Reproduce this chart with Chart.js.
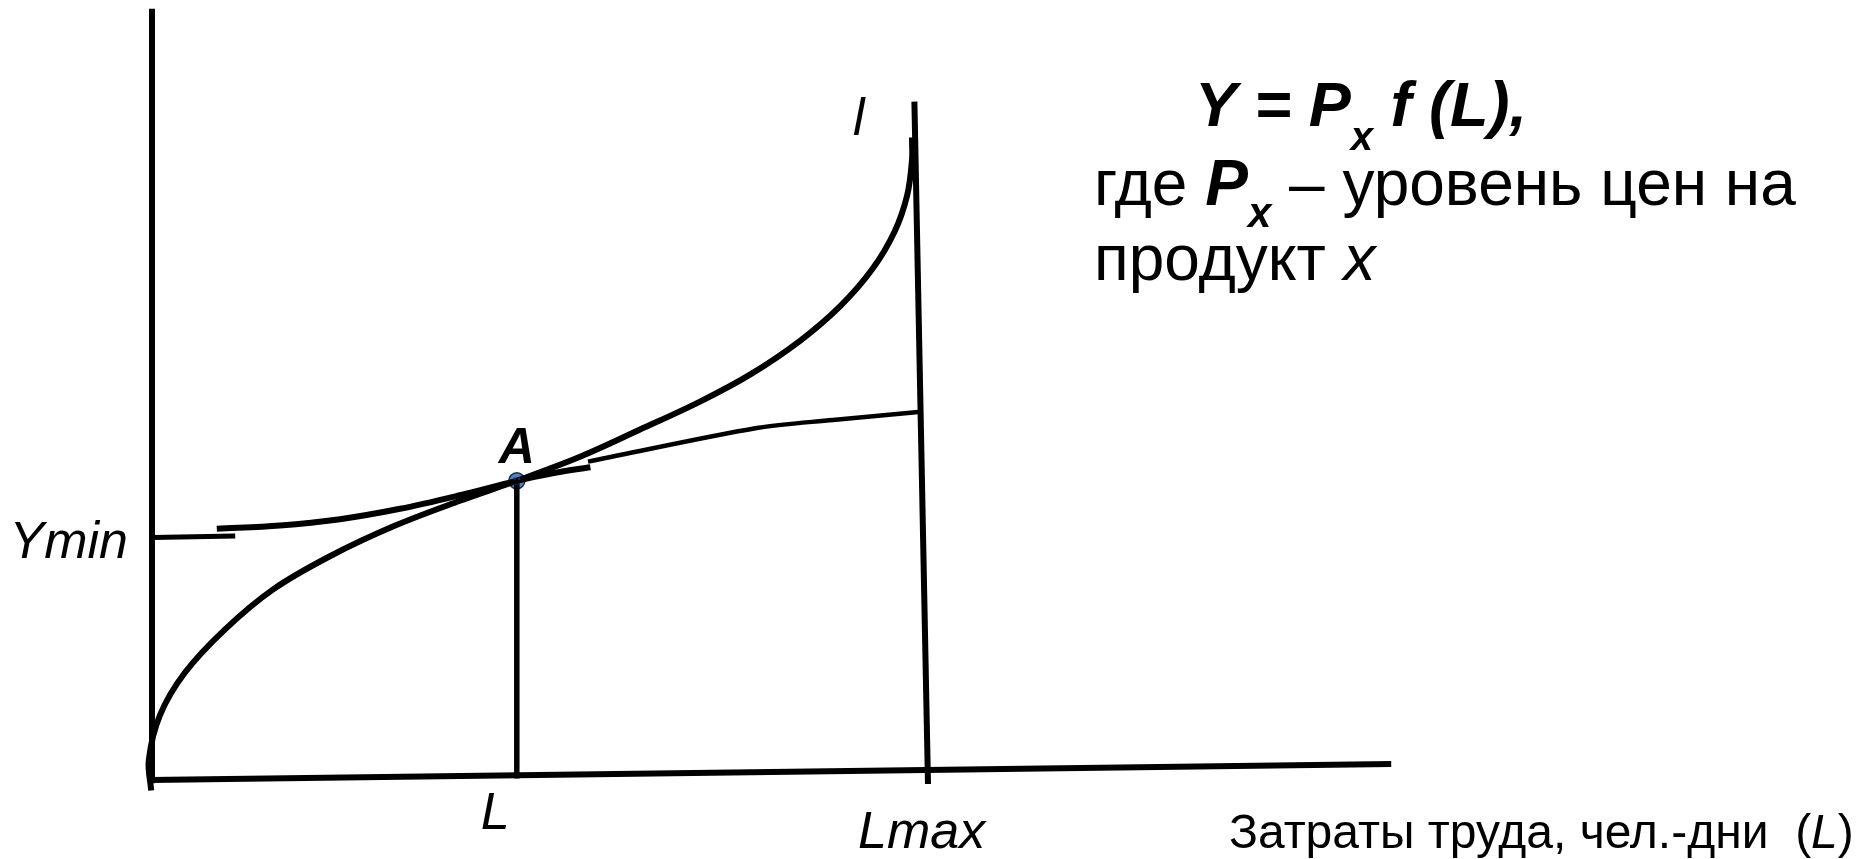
<!DOCTYPE html>
<html>
<head>
<meta charset="utf-8">
<script src="https://cdn.jsdelivr.net/npm/chart.js@4.4.1/dist/chart.umd.min.js"></script>
<style>
  html, body { margin: 0; padding: 0; background: #fff; }
  canvas { display: block; }
</style>
</head>
<body>
<canvas id="prodChart" width="1868" height="859"></canvas>
<script>
// production function Y = f(L) (L and Y in chart units)
const fCurveL = [-0.1, -0.4, 1.0, 4.1, 9.1, 15.1, 22.3, 30.4, 38.5, 45.6, 53.5, 61.0, 68.5, 74.8, 81.0, 86.0, 90.0, 92.8, 94.4, 95.0, 95.0];
const fCurveY = [-1.3, 2.5, 8.1, 13.4, 18.8, 23.8, 28.0, 31.8, 34.9, 37.4, 40.4, 43.8, 47.3, 50.7, 54.9, 59.2, 63.8, 68.5, 73.1, 77.5, 80.3];

// curve from Ymin through point A
const yminCurveL = [8.1, 16.0, 23.5, 31.0, 38.5, 45.6, 50.4, 54.8];
const yminCurveY = [31.4, 31.8, 32.6, 33.9, 35.6, 37.4, 38.4, 39.1];
const yminTickL = [0.1, 10.4];
const yminTickY = [30.3, 30.5];

// second piece going on to Lmax
const upperLineL = [54.5, 75.6, 85.1, 95.8];
const upperLineY = [39.8, 44.0, 45.0, 46.0];

// axes and guide lines
const yAxisL = [0, 0];
const yAxisY = [96.4, -0.4];
const xAxisL = [-0.2, 154.9];
const xAxisY = [0, 2.0];
const lmaxL = [95.3, 97.0];
const lmaxY = [84.8, -0.5];
const pointA = { L: 45.6, Y: 37.4 };

function toPoints(xs, ys) {
    return xs.map((v, i) => ({ x: v, y: ys[i] }));
}

function lineSet(xs, ys, width, tension) {
    return {
        data: toPoints(xs, ys),
        showLine: true,
        borderColor: "#000",
        borderWidth: width,
        pointRadius: 0,
        tension: tension || 0,
        borderCapStyle: "butt"
    };
}

const labelsPlugin = {
    id: "labels",
    afterDatasetsDraw(chart) {
        const ctx = chart.ctx;
        const xs = chart.scales.x;
        const ys = chart.scales.y;
        const ff = "'Liberation Sans', Arial, sans-serif";
        ctx.save();
        ctx.textBaseline = "alphabetic";

        // smiley on point A
        const ax = xs.getPixelForValue(pointA.L);
        const ay = ys.getPixelForValue(pointA.Y);
        ctx.fillStyle = "#1b2f4a";
        ctx.beginPath(); ctx.arc(ax - 2.4, ay - 2, 1.4, 0, Math.PI * 2); ctx.fill();
        ctx.beginPath(); ctx.arc(ax + 2.4, ay - 2, 1.4, 0, Math.PI * 2); ctx.fill();
        ctx.strokeStyle = "#1b2f4a"; ctx.lineWidth = 1;
        ctx.beginPath(); ctx.arc(ax, ay + 0.5, 3.4, 0.2 * Math.PI, 0.8 * Math.PI); ctx.stroke();
        ctx.fillStyle = "#000";

        // point and axis labels
        ctx.font = "italic 52px " + ff;
        ctx.textAlign = "right";
        ctx.fillText("Ymin", 128, 558);
        ctx.textAlign = "left";
        ctx.fillText("L", ax - 36, 829);
        ctx.fillText("Lmax", 858, 848);
        ctx.fillText("l", 853, 135);
        ctx.font = "bold italic 50px " + ff;
        ctx.textAlign = "center";
        ctx.fillText("A", ax, 463);

        // axis title
        ctx.textAlign = "left";
        let x = 1229;
        ctx.font = "48px " + ff;
        ctx.fillText("Затраты труда, чел.-дни  (", x, 848);
        x += ctx.measureText("Затраты труда, чел.-дни  (").width;
        ctx.font = "italic 48px " + ff;
        ctx.fillText("L", x, 848);
        x += ctx.measureText("L").width;
        ctx.font = "48px " + ff;
        ctx.fillText(")", x, 848);

        // formula block
        const runs = [
            [1195, 126, [["bold italic 63px", "Y = P", 0], ["bold italic 40px", "x", 24], ["bold italic 63px", " f (L),", 0]]],
            [1094, 205, [["64px", "где ", 0], ["bold italic 64px", "P", 0], ["bold italic 42px", "x", 22], ["64px", " – уровень цен на", 0]]],
            [1094, 280, [["64px", "продукт ", 0], ["italic 64px", "x", 0]]]
        ];
        runs.forEach(line => {
            let cx = line[0];
            line[2].forEach(r => {
                ctx.font = r[0] + " " + ff;
                ctx.fillText(r[1], cx, line[1] + r[2]);
                cx += ctx.measureText(r[1]).width;
            });
        });
        ctx.restore();
    }
};

const ctx = document.getElementById("prodChart").getContext("2d");

new Chart(ctx, {
    type: "scatter",
    data: {
        datasets: [
            lineSet(yAxisL, yAxisY, 6),
            lineSet(xAxisL, xAxisY, 6),
            lineSet(lmaxL, lmaxY, 6),
            lineSet([pointA.L, pointA.L], [pointA.Y, 0.2], 5.5),
            lineSet(yminTickL, yminTickY, 5),
            lineSet(yminCurveL, yminCurveY, 6, 0.35),
            lineSet(upperLineL, upperLineY, 4.5, 0.3),
            lineSet(fCurveL, fCurveY, 6, 0.35),
            {
                data: [{ x: pointA.L, y: pointA.Y }],
                pointRadius: 8,
                pointBackgroundColor: "#4f81bd",
                pointBorderColor: "#1b2f4a",
                pointBorderWidth: 1.5
            }
        ]
    },
    options: {
        responsive: false,
        animation: false,
        layout: { padding: 0, autoPadding: false },
        plugins: { legend: { display: false }, tooltip: { enabled: false } },
        scales: {
            x: { type: "linear", display: false, min: -19, max: 214.5 },
            y: { type: "linear", display: false, min: -9.875, max: 97.5 }
        }
    },
    plugins: [labelsPlugin]
});
</script>
</body>
</html>
